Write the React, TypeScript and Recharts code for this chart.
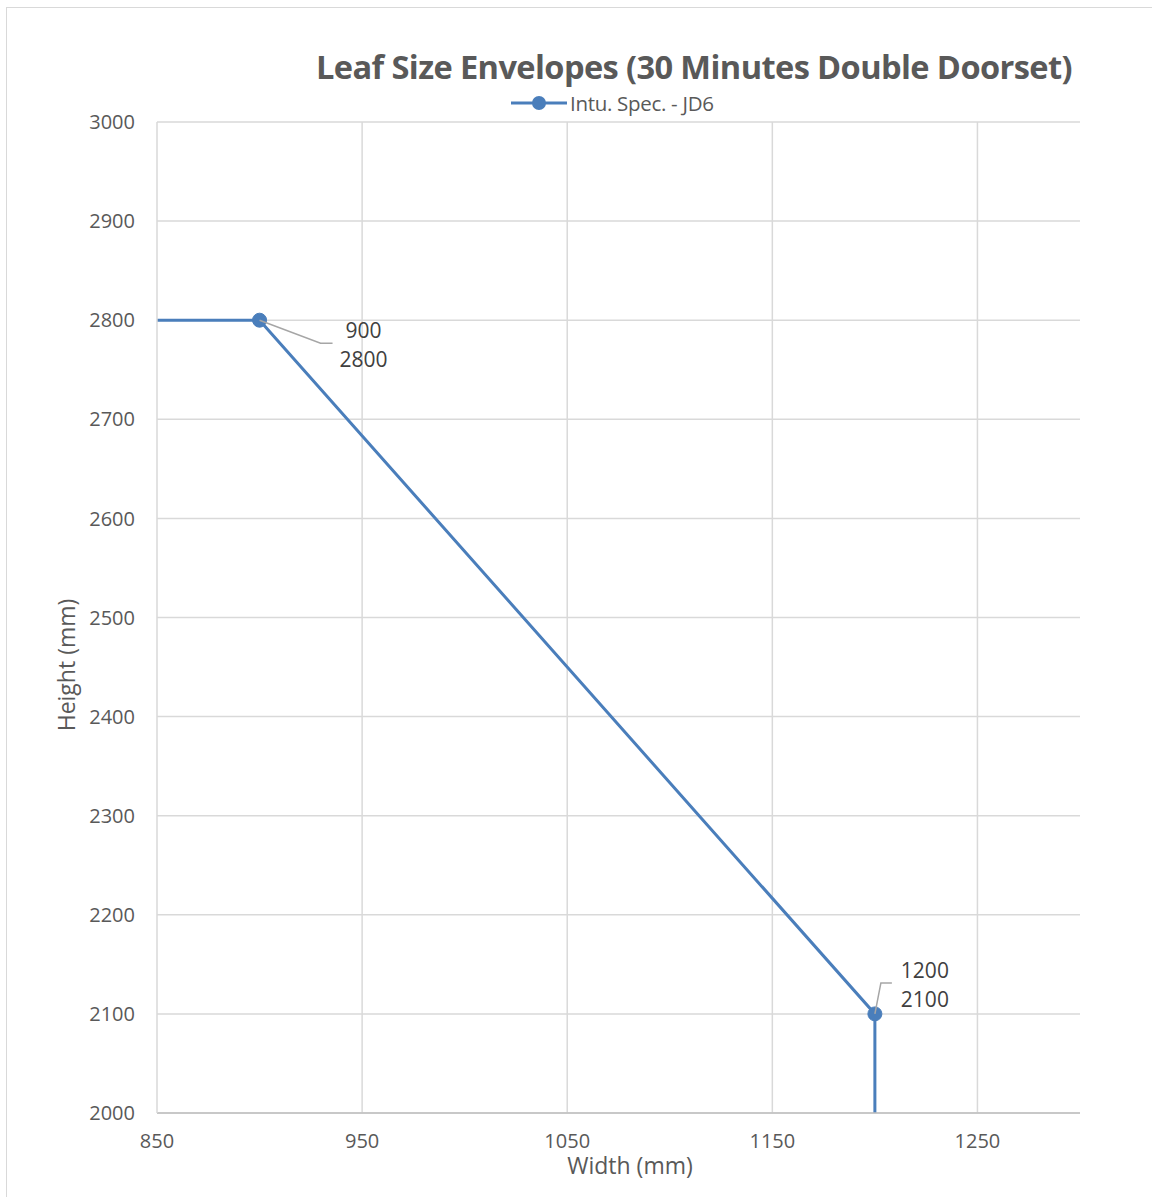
import React from "react";
import { CartesianGrid, LabelList, Line, LineChart, ReferenceLine, XAxis, YAxis } from "recharts";

const widths = [850, 900, 1200, 1200];
const heights = [2800, 2800, 2100, 2000];
const showPoint = [false, true, true, false];
const xTicks = [850, 950, 1050, 1150, 1250];
const yTicks = [2000, 2100, 2200, 2300, 2400, 2500, 2600, 2700, 2800, 2900, 3000];

const data = widths.map((w, i) => ({ w, h: heights[i], mark: showPoint[i] }));

const FONT = "'Open Sans', 'Noto Sans', sans-serif";
const BLUE = "#4a7ebb";
const TEXT = "#595959";

function Dot(props: any) {
  const { cx, cy, payload, index } = props;
  if (!payload || !payload.mark) return <g key={index} />;
  return <circle key={index} cx={cx} cy={cy} r={7} fill={BLUE} stroke={BLUE} strokeWidth={1} />;
}

function PointLabel(props: any) {
  const { x, y, index } = props;
  if (!showPoint[index]) return null;
  const w = widths[index];
  const h = heights[index];
  const below = index === 1;
  const lead = below
    ? `M${x},${y} L${x + 61},${y + 23} L${x + 73},${y + 23}`
    : `M${x},${y} L${x + 6},${y - 31} L${x + 17},${y - 31}`;
  const tx = below ? x + 104 : x + 50;
  const ty1 = below ? y + 10 : y - 44;
  return (
    <g>
      <path d={lead} fill="none" stroke="#a6a6a6" strokeWidth={1.5} />
      <text x={tx} y={ty1} textAnchor="middle" dominantBaseline="central" fontSize={21} fill="#404040" fontFamily={FONT}>{w}</text>
      <text x={tx} y={ty1 + 29} textAnchor="middle" dominantBaseline="central" fontSize={21} fill="#404040" fontFamily={FONT}>{h}</text>
    </g>
  );
}

export default function App() {
  return (
    <div style={{ position: "absolute", left: 0, top: 0, width: 1152, height: 1197, overflow: "hidden", background: "#fff", fontFamily: FONT }}>
      <div style={{ position: "absolute", left: 6, top: 7, width: 1200, height: 1250, border: "1px solid #d9d9d9", boxSizing: "border-box" }} />
      <div style={{ position: "absolute", left: 0, width: 1152, top: 44, height: 44, display: "flex", justifyContent: "center", alignItems: "center", paddingLeft: 236, boxSizing: "border-box", fontSize: 32.6, fontWeight: 700, color: TEXT, letterSpacing: -0.6, whiteSpace: "nowrap" }}>
        Leaf Size Envelopes (30 Minutes Double Doorset)
      </div>
      <div style={{ position: "absolute", left: 511, top: 90, height: 26, display: "flex", alignItems: "center", fontSize: 20.5, color: TEXT, whiteSpace: "nowrap", letterSpacing: -0.3 }}>
        <svg width={58} height={16} style={{ marginRight: 1 }}>
          <line x1={0} y1={8} x2={56} y2={8} stroke={BLUE} strokeWidth={3} />
          <circle cx={28} cy={8} r={7} fill={BLUE} />
        </svg>
        Intu. Spec. - JD6
      </div>
      <div style={{ position: "absolute", left: 0, top: 0 }}>
        <LineChart width={1152} height={1197} data={data} margin={{ top: 122, right: 72, bottom: 54, left: 0 }}>
          <CartesianGrid stroke="#d9d9d9" strokeWidth={1.5} vertical={false} />
          {xTicks.slice(1).map((t) => (
            <ReferenceLine key={t} x={t} stroke="#d9d9d9" strokeWidth={1.5} />
          ))}
          <XAxis
            dataKey="w"
            type="number"
            domain={[850, 1300]}
            ticks={xTicks}
            allowDataOverflow
            height={30}
            tickLine={false}
            tickSize={0}
            tickMargin={21}
            axisLine={{ stroke: "#bfbfbf", strokeWidth: 1.5 }}
            tick={{ fontSize: 20, fill: TEXT, fontFamily: FONT }}
          />
          <YAxis
            dataKey="h"
            type="number"
            domain={[2000, 3000]}
            ticks={yTicks}
            width={157}
            tickLine={false}
            tickSize={0}
            tickMargin={22}
            axisLine={{ stroke: "#d9d9d9", strokeWidth: 1.5 }}
            tick={{ fontSize: 20, fill: TEXT, fontFamily: FONT }}
          />
          <Line
            type="linear"
            dataKey="h"
            stroke={BLUE}
            strokeWidth={3}
            dot={Dot}
            activeDot={false}
            isAnimationActive={false}
          >
            <LabelList dataKey="h" content={PointLabel} />
          </Line>
        </LineChart>
      </div>
      <div style={{ position: "absolute", left: 530, width: 200, top: 1149, textAlign: "center", fontSize: 23, color: TEXT }}>Width (mm)</div>
      <div style={{ position: "absolute", left: 66, top: 665, width: 0, height: 0 }}>
        <div style={{ position: "absolute", left: -100, top: -16, width: 200, textAlign: "center", fontSize: 23, color: TEXT, transform: "rotate(-90deg)", whiteSpace: "nowrap" }}>Height (mm)</div>
      </div>
    </div>
  );
}
